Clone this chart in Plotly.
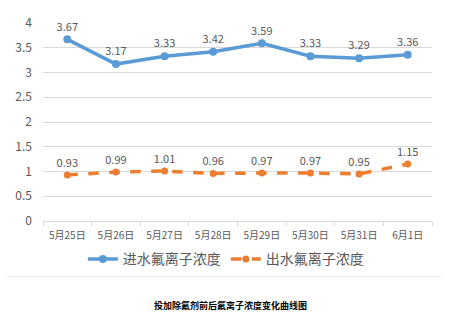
import plotly.graph_objects as go

dates = ["5月25日", "5月26日", "5月27日", "5月28日", "5月29日", "5月30日", "5月31日", "6月1日"]
inflow = [3.67, 3.17, 3.33, 3.42, 3.59, 3.33, 3.29, 3.36]
outflow = [0.93, 0.99, 1.01, 0.96, 0.97, 0.97, 0.95, 1.15]
y_ticks = [0, 0.5, 1, 1.5, 2, 2.5, 3, 3.5, 4]

blue = "#5B9BD5"
orange = "#ED7D31"
label_gray = "#595959"
font_family = "Noto Sans CJK SC, Noto Sans, sans-serif"

W, H = 450, 326
L, R, T, B = 43, 18, 23, 104.5
plot_h = H - T - B

def py(y_px):
    # pixel row -> paper coordinate
    return (H - B - y_px) / plot_h

fig = go.Figure()
fig.add_trace(go.Scatter(
    x=dates, y=inflow, name="进水氟离子浓度",
    mode="lines+markers+text",
    line=dict(color=blue, width=3.5),
    marker=dict(color=blue, size=8),
    text=[f"{v:.2f}" for v in inflow], textposition="top center",
    textfont=dict(color=label_gray, size=11, family=font_family),
))
fig.add_trace(go.Scatter(
    x=dates, y=outflow, name="出水氟离子浓度",
    mode="lines+markers+text",
    line=dict(color=orange, width=3.5, dash="dash"),
    marker=dict(color=orange, size=7),
    text=[f"{v:.2f}" for v in outflow], textposition="top center",
    textfont=dict(color=label_gray, size=11, family=font_family),
))

fig.update_layout(
    width=W, height=H,
    margin=dict(l=L, r=R, t=T, b=B),
    paper_bgcolor="white", plot_bgcolor="white",
    font=dict(family=font_family, color=label_gray),
    showlegend=True,
    legend=dict(orientation="h", x=0.47, xanchor="center", y=py(260), yanchor="middle",
                font=dict(size=14, color=label_gray), itemwidth=30,
                bgcolor="rgba(0,0,0,0)"),
    xaxis=dict(
        type="category", range=[-0.5, len(dates) - 0.5],
        showgrid=False, showline=True, linecolor="#d9d9d9", linewidth=1,
        ticks="outside", tickcolor="#d9d9d9", ticklen=4, tickson="boundaries",
        ticklabelstandoff=5,
        tickfont=dict(size=10, color=label_gray), fixedrange=True,
    ),
    yaxis=dict(
        range=[0, 4], tickvals=y_ticks, ticktext=[f"{v:g}" for v in y_ticks],
        showgrid=True, gridcolor="#d9d9d9", gridwidth=1, zeroline=False,
        showline=False, tickfont=dict(size=12, color=label_gray), ticklen=0,
        ticks="", ticklabelstandoff=10, fixedrange=True,
    ),
    shapes=[dict(type="line", xref="paper", yref="paper",
                 x0=(7 - L) / (W - L - R), x1=(441 - L) / (W - L - R),
                 y0=py(277), y1=py(277),
                 line=dict(color="#e6e6e6", width=1))],
    annotations=[dict(text="<b>投加除氟剂前后氟离子浓度变化曲线图</b>",
                      xref="paper", yref="paper",
                      x=(230 - L) / (W - L - R), y=py(306),
                      xanchor="center", yanchor="middle", showarrow=False,
                      font=dict(size=9, color="black", family=font_family))],
)

fig.write_html("out.html")
